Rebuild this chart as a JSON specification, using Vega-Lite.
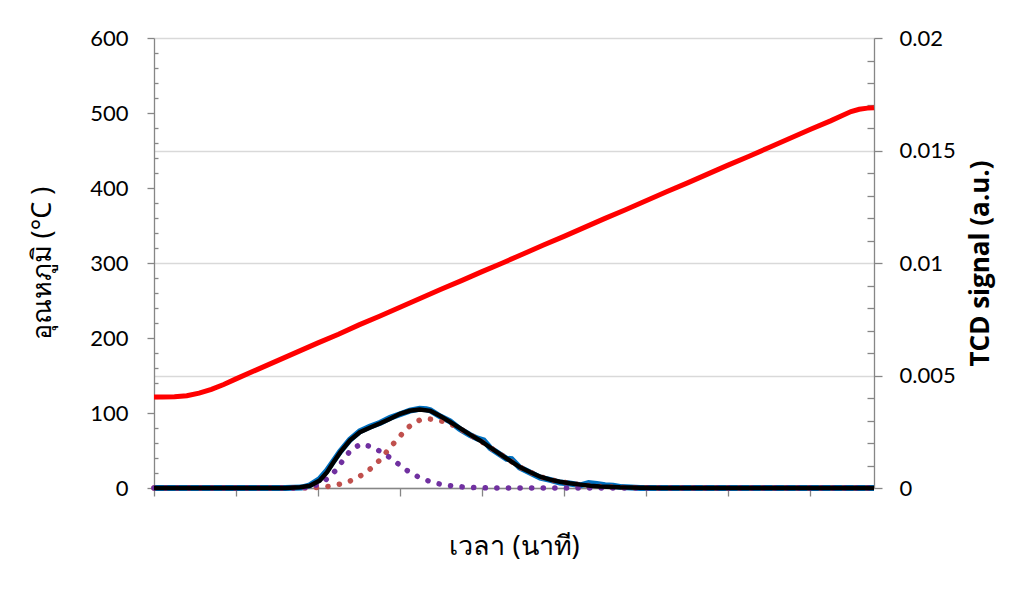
{
  "$schema": "https://vega.github.io/schema/vega-lite/v6.json",
  "autosize": "none",
  "width": 720,
  "height": 450,
  "padding": {"left": 154, "top": 38, "right": 137, "bottom": 112},
  "background": "white",
  "config": {
    "view": {"stroke": null},
    "axis": {"labelFont": "Lato", "labelFontSize": 22, "labelColor": "#000000", "titleColor": "#000000", "domainColor": "#868686", "tickColor": "#868686", "domainWidth": 1.3, "tickWidth": 1.3}
  },
  "datasets": {
    "temp": [
      {"t": 0, "T": 121.5}, {"t": 1, "T": 121.5}, {"t": 2.5, "T": 121.6}, {"t": 4, "T": 123}, {"t": 5.5, "T": 126.5},
      {"t": 7, "T": 131.5}, {"t": 8.5, "T": 138}, {"t": 10, "T": 145.5}, {"t": 12.5, "T": 157.5}, {"t": 15, "T": 169.5},
      {"t": 17.5, "T": 181.5}, {"t": 20, "T": 193.5}, {"t": 22.5, "T": 205}, {"t": 25, "T": 217.5}, {"t": 27.5, "T": 229},
      {"t": 30, "T": 241}, {"t": 32.5, "T": 253}, {"t": 35, "T": 265}, {"t": 37.5, "T": 276.5}, {"t": 40, "T": 288.5},
      {"t": 42.5, "T": 300}, {"t": 45, "T": 312}, {"t": 47.5, "T": 324}, {"t": 50, "T": 335.5}, {"t": 52.5, "T": 347.5},
      {"t": 55, "T": 359.5}, {"t": 57.5, "T": 371}, {"t": 60, "T": 383}, {"t": 62.5, "T": 395}, {"t": 65, "T": 406.5},
      {"t": 67.5, "T": 418.5}, {"t": 70, "T": 430.5}, {"t": 72.5, "T": 442}, {"t": 75, "T": 454}, {"t": 77.5, "T": 466},
      {"t": 80, "T": 478}, {"t": 82.5, "T": 489.5}, {"t": 84, "T": 497}, {"t": 85, "T": 502}, {"t": 86, "T": 505},
      {"t": 87, "T": 506.5}, {"t": 87.8, "T": 507}
    ],
    "data": [
      {"t": 0, "s": 0}, {"t": 16, "s": 0}, {"t": 18, "s": 0.00002}, {"t": 19, "s": 0.00012}, {"t": 20.2, "s": 0.0004},
      {"t": 21.1, "s": 0.00078}, {"t": 21.8, "s": 0.00115}, {"t": 22.7, "s": 0.00162}, {"t": 23.9, "s": 0.00215},
      {"t": 25.1, "s": 0.00252}, {"t": 26.3, "s": 0.00272}, {"t": 27.6, "s": 0.0029}, {"t": 28.8, "s": 0.00312},
      {"t": 30, "s": 0.00328}, {"t": 31.2, "s": 0.00344}, {"t": 32.4, "s": 0.00352}, {"t": 33.2, "s": 0.0035},
      {"t": 33.7, "s": 0.00345}, {"t": 34.9, "s": 0.00318}, {"t": 36.1, "s": 0.00296}, {"t": 37.3, "s": 0.00262},
      {"t": 38.5, "s": 0.00236}, {"t": 39.4, "s": 0.0022}, {"t": 40.2, "s": 0.00212}, {"t": 41, "s": 0.00178},
      {"t": 42.2, "s": 0.00149}, {"t": 43, "s": 0.0013}, {"t": 43.6, "s": 0.00128}, {"t": 44.6, "s": 0.00091},
      {"t": 45.9, "s": 0.00068}, {"t": 47.1, "s": 0.00046}, {"t": 48.3, "s": 0.00036}, {"t": 49.5, "s": 0.00024},
      {"t": 50.7, "s": 0.0002}, {"t": 52, "s": 0.00012}, {"t": 53, "s": 0.00022}, {"t": 54, "s": 0.00018},
      {"t": 55, "s": 0.00012}, {"t": 56, "s": 0.0001}, {"t": 57, "s": 0.00004}, {"t": 59.3, "s": 0}, {"t": 87.8, "s": 0}
    ],
    "peak2": [
      {"t": 0, "s": 0}, {"t": 17.8, "s": 0}, {"t": 20.2, "s": 0.00003}, {"t": 21.7, "s": 0.00009}, {"t": 23.1, "s": 0.00021},
      {"t": 24.5, "s": 0.00039}, {"t": 25.8, "s": 0.00068}, {"t": 26.9, "s": 0.001}, {"t": 27.9, "s": 0.00139},
      {"t": 28.8, "s": 0.00181}, {"t": 29.8, "s": 0.00221}, {"t": 30.7, "s": 0.00261}, {"t": 31.8, "s": 0.00292},
      {"t": 32.6, "s": 0.00305}, {"t": 33.3, "s": 0.00308}, {"t": 34.6, "s": 0.00302}, {"t": 36, "s": 0.00288},
      {"t": 37.3, "s": 0.00264}, {"t": 38.5, "s": 0.00237}, {"t": 39.8, "s": 0.0021}, {"t": 41, "s": 0.0018},
      {"t": 42.2, "s": 0.00151}, {"t": 43.4, "s": 0.00122}, {"t": 44.6, "s": 0.00093}, {"t": 45.9, "s": 0.0007},
      {"t": 47.1, "s": 0.0005}, {"t": 48.3, "s": 0.00037}, {"t": 49.5, "s": 0.00028}, {"t": 50.7, "s": 0.00021},
      {"t": 52, "s": 0.00015}, {"t": 53.2, "s": 0.0001}, {"t": 54.4, "s": 0.00007}, {"t": 56.8, "s": 0.00003},
      {"t": 59.3, "s": 0.00001}, {"t": 62, "s": 0}, {"t": 87.8, "s": 0}
    ],
    "peak1": [
      {"t": 0, "s": 0}, {"t": 17, "s": 0}, {"t": 18.5, "s": 0.00002}, {"t": 19.6, "s": 0.0001}, {"t": 20.9, "s": 0.00035},
      {"t": 22.3, "s": 0.00083}, {"t": 23.2, "s": 0.00132}, {"t": 24.1, "s": 0.00173}, {"t": 25.3, "s": 0.00196},
      {"t": 26.7, "s": 0.00181}, {"t": 28, "s": 0.00154}, {"t": 29.2, "s": 0.00124}, {"t": 30.3, "s": 0.00092},
      {"t": 31.5, "s": 0.00062}, {"t": 32.8, "s": 0.0004}, {"t": 34.2, "s": 0.00022}, {"t": 35.7, "s": 0.00012},
      {"t": 37.1, "s": 0.00006}, {"t": 39, "s": 0.00002}, {"t": 41, "s": 0}, {"t": 87.8, "s": 0}
    ],
    "fit": [
      {"t": 0, "s": 0}, {"t": 16, "s": 0}, {"t": 17.8, "s": 0.00003}, {"t": 19, "s": 0.0001}, {"t": 20.2, "s": 0.00033},
      {"t": 21.1, "s": 0.0007}, {"t": 21.8, "s": 0.0011}, {"t": 22.7, "s": 0.00158}, {"t": 23.9, "s": 0.00212},
      {"t": 25.1, "s": 0.00248}, {"t": 26.3, "s": 0.00268}, {"t": 27.6, "s": 0.00288}, {"t": 28.8, "s": 0.00308},
      {"t": 30, "s": 0.0033}, {"t": 31.2, "s": 0.00343}, {"t": 32.4, "s": 0.00349}, {"t": 33.7, "s": 0.00343},
      {"t": 34.9, "s": 0.0032}, {"t": 36.1, "s": 0.00294}, {"t": 37.3, "s": 0.00266}, {"t": 38.5, "s": 0.00238},
      {"t": 39.8, "s": 0.0021}, {"t": 41, "s": 0.0018}, {"t": 42.2, "s": 0.00151}, {"t": 43.4, "s": 0.00122},
      {"t": 44.6, "s": 0.00093}, {"t": 45.9, "s": 0.0007}, {"t": 47.1, "s": 0.0005}, {"t": 48.3, "s": 0.00037},
      {"t": 49.5, "s": 0.00028}, {"t": 50.7, "s": 0.00021}, {"t": 52, "s": 0.00015}, {"t": 53.2, "s": 0.0001},
      {"t": 54.4, "s": 0.00007}, {"t": 56.8, "s": 0.00003}, {"t": 59.3, "s": 0.00001}, {"t": 62, "s": 0}, {"t": 87.8, "s": 0}
    ]
  },
  "layer": [
    {
      "data": {"name": "temp"},
      "mark": {"type": "line", "color": "#ff0000", "strokeWidth": 5, "clip": false},
      "encoding": {
        "x": {
          "field": "t", "type": "quantitative",
          "scale": {"domain": [0, 87.8], "nice": false, "zero": false},
          "axis": {
            "values": [0, 10, 20, 30, 40, 50, 60, 70, 80],
            "labels": false, "grid": false, "tickSize": 8,
            "title": "เวลา (นาที)", "titleFont": "Noto Sans", "titleFontSize": 27, "titleFontWeight": "normal",
            "titlePadding": 37
          }
        },
        "y": {
          "field": "T", "type": "quantitative",
          "scale": {"domain": [0, 600], "nice": false},
          "axis": {
            "orient": "left",
            "values": [0, 20, 40, 60, 80, 100, 120, 140, 160, 180, 200, 220, 240, 260, 280, 300, 320, 340, 360, 380, 400, 420, 440, 460, 480, 500, 520, 540, 560, 580, 600],
            "labelExpr": "datum.value % 100 === 0 ? format(datum.value, 'd') : ''",
            "labelOverlap": false,
            "labelPadding": 19,
            "tickSize": {"condition": {"test": "datum.value % 100 === 0", "value": 7}, "value": -4},
            "grid": false,
            "title": "อุณหภูมิ (°C )", "titleFont": "Noto Sans", "titleFontSize": 27, "titleFontWeight": "normal",
            "titlePadding": 33
          }
        }
      }
    },
    {
      "encoding": {
        "x": {"field": "t", "type": "quantitative"},
        "y": {
          "field": "s", "type": "quantitative",
          "scale": {"domain": [0, 0.02], "nice": false},
          "axis": {
            "orient": "right",
            "values": [0, 0.001, 0.002, 0.003, 0.004, 0.005, 0.006, 0.007, 0.008, 0.009, 0.01, 0.011, 0.012, 0.013, 0.014, 0.015, 0.016, 0.017, 0.018, 0.019, 0.02],
            "labelExpr": "round(datum.value * 1000) % 5 === 0 ? format(datum.value, '~g') : ''",
            "labelOverlap": false,
            "labelPadding": 17,
            "tickSize": {"condition": {"test": "round(datum.value * 1000) % 5 === 0", "value": 8}, "value": -7},
            "grid": true,
            "gridColor": "#d9d9d9",
            "gridWidth": 1.3,
            "gridOpacity": {"condition": {"test": "round(datum.value * 1000) % 5 === 0", "value": 1}, "value": 0},
            "title": "TCD signal (a.u.)", "titleFont": "Open Sans", "titleFontSize": 26, "titleFontWeight": "bold",
            "titleAngle": 270, "titleBaseline": "top", "titlePadding": 12
          }
        }
      },
      "layer": [
        {"data": {"name": "data"}, "mark": {"type": "line", "color": "#0070c0", "strokeWidth": 6}},
        {"data": {"name": "peak2"}, "mark": {"type": "line", "color": "#c0504d", "strokeWidth": 5.5, "strokeDash": [0.1, 11.5], "strokeCap": "round"}},
        {"data": {"name": "peak1"}, "mark": {"type": "line", "color": "#7030a0", "strokeWidth": 5.5, "strokeDash": [0.1, 11.5], "strokeCap": "round"}},
        {"data": {"name": "fit"}, "mark": {"type": "line", "color": "#000000", "strokeWidth": 4.5}}
      ]
    }
  ],
  "resolve": {"scale": {"y": "independent"}}
}
